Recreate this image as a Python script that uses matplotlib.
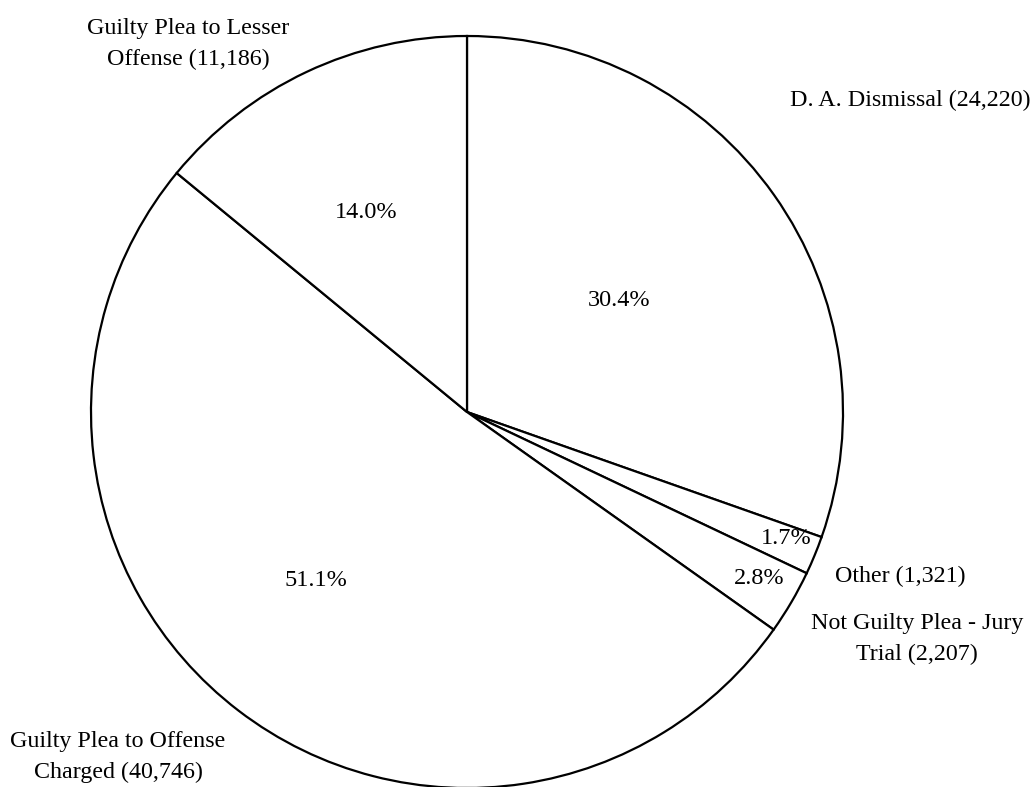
import matplotlib
matplotlib.use('Agg')
import matplotlib.pyplot as plt

# case dispositions, clockwise from 12 o'clock
categories = ['D. A. Dismissal', 'Other', 'Not Guilty Plea - Jury Trial',
              'Guilty Plea to Offense Charged', 'Guilty Plea to Lesser Offense']
counts = [24220, 1321, 2207, 40746, 11186]
pct_labels = ['30.4%', '1.7%', '2.8%', '51.1%', '14.0%']
name_labels = ['D. A. Dismissal (24,220)', 'Other (1,321)',
               'Not Guilty Plea - Jury\nTrial (2,207)',
               'Guilty Plea to Offense\nCharged (40,746)',
               'Guilty Plea to Lesser\nOffense (11,186)']

W, H = 1035, 787
fig = plt.figure(figsize=(W / 100, H / 100), dpi=100)
ax = fig.add_axes([0, 0, 1, 1])
ax.set_aspect('equal')
ax.axis('off')

cx, cy, r = 467, H - 412, 376
ax.pie(counts, startangle=90, counterclock=False, center=(cx, cy), radius=r,
       colors=['white'] * len(counts),
       wedgeprops=dict(edgecolor='black', linewidth=1.6))
ax.set_xlim(0, W)
ax.set_ylim(0, H)

font = 'Liberation Serif'
# percentage text inside the wedges
pct_pos = [(619, 300), (786, 539), (759, 578), (316, 580), (366, 212)]
for txt, (x, y) in zip(pct_labels, pct_pos):
    ax.text(x, H - y, txt, ha='center', va='center', fontsize=17.5,
            family=font)

# category labels around the pie
name_pos = [(790, 100, 'left'), (835, 576, 'left'), (917, 639, 'center'),
            (118, 757, 'center'), (188, 44, 'center')]
for txt, (x, y, ha) in zip(name_labels, name_pos):
    ax.text(x, H - y, txt, ha=ha, va='center', fontsize=17.3, family=font,
            multialignment='center', linespacing=1.65)

fig.savefig('out.png', dpi=100)
